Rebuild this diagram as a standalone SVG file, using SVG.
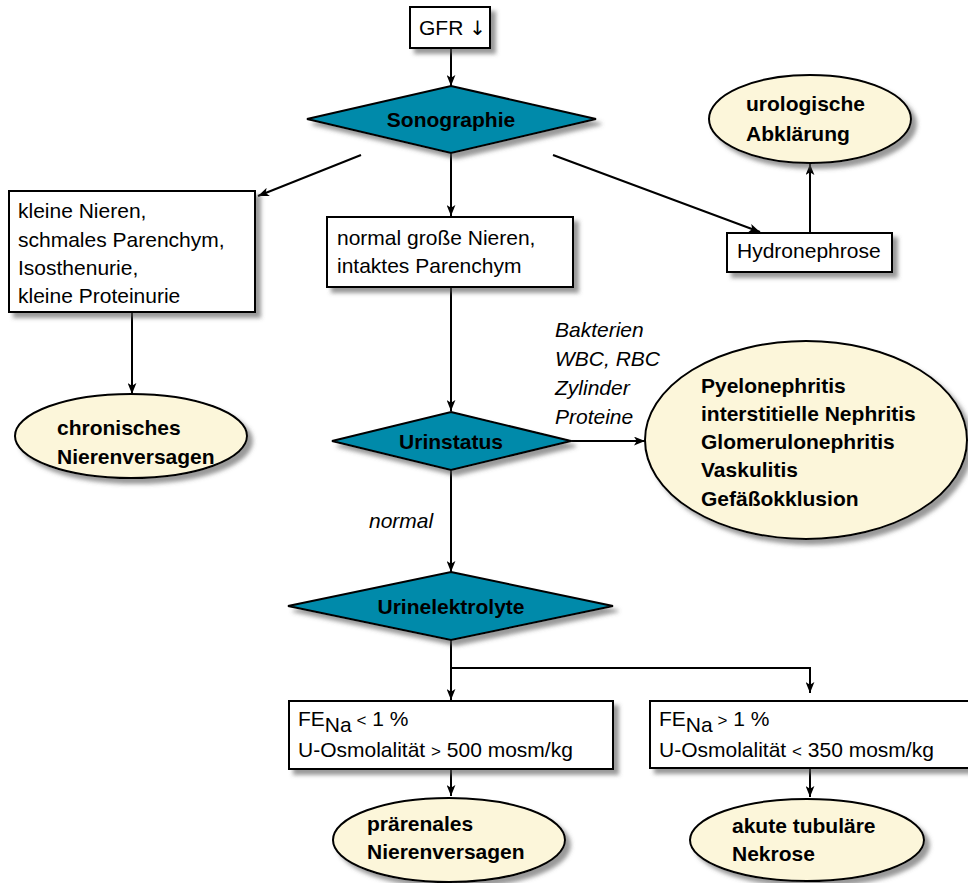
<svg xmlns="http://www.w3.org/2000/svg" width="968" height="883" viewBox="0 0 968 883">
<style>
text{font-family:"Liberation Sans",Arial,Helvetica,sans-serif;font-size:21px;fill:#000}
.b{font-weight:bold}
.i{font-style:italic}
.sym{font-family:"DejaVu Sans",sans-serif;font-size:17px}
.box{fill:#fff;stroke:#000;stroke-width:2;filter:url(#sh)}
.ell{fill:#fcf6da;stroke:#000;stroke-width:2;filter:url(#sh)}
.dia{fill:#038aaa;stroke:#000;stroke-width:2;filter:url(#sh)}
.con{fill:none;stroke:#000;stroke-width:2}
.arr{marker-end:url(#ah)}
</style>
<defs>
<filter id="sh" x="-10%" y="-10%" width="130%" height="140%">
<feDropShadow dx="5" dy="5" stdDeviation="2" flood-color="#555" flood-opacity="0.6"/>
</filter>
<marker id="ah" markerUnits="userSpaceOnUse" viewBox="0 0 10 8" refX="10" refY="4" markerWidth="11" markerHeight="9" orient="auto">
<path d="M0,0 L10,4 L0,8 L2.5,4 z" fill="#000"/>
</marker>
</defs>
<rect width="968" height="883" fill="#fff"/>
<g id="connectors">
<line class="con arr" x1="451" y1="48" x2="451" y2="86"/>
<line class="con arr" x1="361" y1="155" x2="258" y2="196"/>
<line class="con arr" x1="451" y1="153" x2="451" y2="216"/>
<line class="con arr" x1="553" y1="155" x2="760" y2="232"/>
<line class="con arr" x1="810" y1="233" x2="810" y2="164"/>
<line class="con arr" x1="132" y1="312" x2="132" y2="394"/>
<line class="con arr" x1="451" y1="287" x2="451" y2="411"/>
<line class="con arr" x1="571" y1="441" x2="645" y2="441"/>
<line class="con arr" x1="451" y1="470" x2="451" y2="572"/>
<line class="con arr" x1="451" y1="640" x2="451" y2="700"/>
<polyline class="con arr" points="451,668 810,668 810,693"/>
<line class="con arr" x1="451" y1="769" x2="451" y2="796"/>
<line class="con arr" x1="810" y1="768" x2="810" y2="797"/>
</g>
<g id="n-gfr">
<rect class="box" x="410" y="7" width="80" height="41"/>
<text x="419" y="35">GFR <tspan font-family="DejaVu Sans" font-weight="normal" font-size="20">↓</tspan></text>
</g>
<g id="n-sono">
<polygon class="dia" points="451,86 596,119 451,153 307,119"/>
<text class="b" x="451" y="127" text-anchor="middle">Sonographie</text>
</g>
<g id="n-kleine">
<rect class="box" x="9" y="191" width="246" height="121"/>
<text x="18" y="218">kleine Nieren,</text>
<text x="18" y="247">schmales Parenchym,</text>
<text x="18" y="275">Isosthenurie,</text>
<text x="18" y="303">kleine Proteinurie</text>
</g>
<g id="n-normal">
<rect class="box" x="327" y="217" width="246" height="70"/>
<text x="337" y="245">normal große Nieren,</text>
<text x="337" y="273">intaktes Parenchym</text>
</g>
<g id="n-hydro">
<rect class="box" x="727" y="233" width="165" height="39"/>
<text x="737" y="258">Hydronephrose</text>
</g>
<g id="n-uro">
<ellipse class="ell" cx="810" cy="119" rx="101" ry="44"/>
<text class="b" x="746" y="111">urologische</text>
<text class="b" x="746" y="141">Abklärung</text>
</g>
<g id="n-chron">
<ellipse class="ell" cx="131" cy="436" rx="116" ry="42"/>
<text class="b" x="57" y="435">chronisches</text>
<text class="b" x="57" y="464">Nierenversagen</text>
</g>
<g id="n-urin">
<polygon class="dia" points="451,412 571,441 451,470 332,441"/>
<text class="b" x="451" y="449" text-anchor="middle">Urinstatus</text>
</g>
<g id="l-urin">
<text class="i" x="555" y="337">Bakterien</text>
<text class="i" x="555" y="366">WBC, RBC</text>
<text class="i" x="555" y="395">Zylinder</text>
<text class="i" x="555" y="424">Proteine</text>
<text class="i" x="369" y="528">normal</text>
</g>
<g id="n-nephr">
<ellipse class="ell" cx="806" cy="440" rx="161" ry="99"/>
<text class="b" x="701" y="393">Pyelonephritis</text>
<text class="b" x="701" y="421">interstitielle Nephritis</text>
<text class="b" x="701" y="449">Glomerulonephritis</text>
<text class="b" x="701" y="477">Vaskulitis</text>
<text class="b" x="701" y="506">Gefäßokklusion</text>
</g>
<g id="n-elek">
<polygon class="dia" points="451,572 613,606 451,640 288,606"/>
<text class="b" x="451" y="614" text-anchor="middle">Urinelektrolyte</text>
</g>
<g id="n-fe1">
<rect class="box" x="289" y="701" width="324" height="68"/>
<text x="298" y="726">FE<tspan dy="6">Na</tspan><tspan dy="-6" font-size="17"> &lt;</tspan> 1 %</text>
<text x="298" y="757">U-Osmolalität <tspan font-size="17">&gt;</tspan> 500 mosm/kg</text>
</g>
<g id="n-fe2">
<rect class="box" x="650" y="701" width="330" height="67"/>
<text x="659" y="726">FE<tspan dy="6">Na</tspan><tspan dy="-6" font-size="17"> &gt;</tspan> 1 %</text>
<text x="659" y="757">U-Osmolalität <tspan font-size="17">&lt;</tspan> 350 mosm/kg</text>
</g>
<g id="n-prae">
<ellipse class="ell" cx="449" cy="840" rx="116" ry="42"/>
<text class="b" x="367" y="831">prärenales</text>
<text class="b" x="367" y="859">Nierenversagen</text>
</g>
<g id="n-atn">
<ellipse class="ell" cx="807" cy="840" rx="117" ry="41"/>
<text class="b" x="732" y="833">akute tubuläre</text>
<text class="b" x="732" y="861">Nekrose</text>
</g>
</svg>
